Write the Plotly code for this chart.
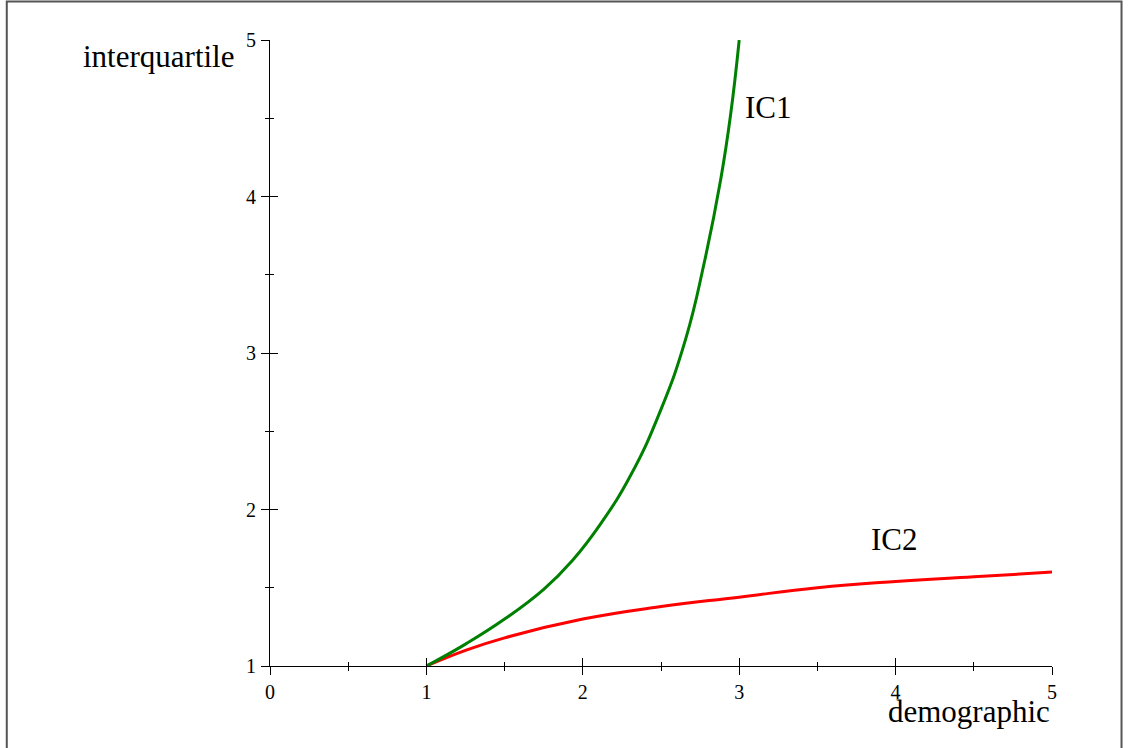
import plotly.graph_objects as go

# ---- data ----
ic1_x = [1, 1.25, 1.5, 1.75, 1.935, 2.115, 2.307, 2.498, 2.658, 2.775, 2.882, 2.946, 3]
ic1_y = [1, 1.14, 1.30, 1.49, 1.676, 1.91, 2.22, 2.635, 3.09, 3.57, 4.11, 4.53, 5]

ic2_x = [1, 1.25, 1.5, 2, 2.5, 3, 3.5, 4, 4.5, 5]
ic2_y = [1, 1.10, 1.18, 1.30, 1.38, 1.44, 1.50, 1.54, 1.57, 1.60]

x_ticks = [0, 1, 2, 3, 4, 5]
y_ticks = [1, 2, 3, 4, 5]

x_title = "demographic"
y_title = "interquartile"
labels = [("IC1", 3.025, 4.57), ("IC2", 3.83, 1.81)]

FONT = "Liberation Serif, Times New Roman, serif"

fig = go.Figure()
fig.add_trace(go.Scatter(x=ic2_x, y=ic2_y, mode="lines",
                         line=dict(color="#ff0000", width=3, shape="spline", smoothing=1.3),
                         showlegend=False, hoverinfo="skip"))
fig.add_trace(go.Scatter(x=ic1_x, y=ic1_y, mode="lines",
                         line=dict(color="#008000", width=3, shape="spline", smoothing=1.3),
                         showlegend=False, hoverinfo="skip"))
# empty trace so that overlay axes (inner halves of crossing ticks) exist
fig.add_trace(go.Scatter(x=[None], y=[None], xaxis="x2", yaxis="y2",
                         showlegend=False, hoverinfo="skip"))

common = dict(showgrid=False, zeroline=False, tickcolor="black", ticklen=8, tickwidth=1)

fig.update_layout(
    width=1128, height=748,
    margin=dict(l=270, r=76, t=40, b=82),
    paper_bgcolor="white", plot_bgcolor="white",
    font=dict(family=FONT, color="black"),
    xaxis=dict(range=[0, 5], tickvals=x_ticks, ticks="outside",
               showline=True, linecolor="black", linewidth=1,
               tickfont=dict(family=FONT, size=20, color="black"),
               ticklabelstandoff=0,
               minor=dict(ticks="outside", ticklen=4, dtick=0.5, tick0=0,
                          tickcolor="black", showgrid=False),
               **common),
    yaxis=dict(range=[1, 5], tickvals=y_ticks, ticks="outside",
               showline=True, linecolor="black", linewidth=1,
               tickfont=dict(family=FONT, size=20, color="black"),
               ticklabelstandoff=1,
               minor=dict(ticks="outside", ticklen=4, dtick=0.5, tick0=1,
                          tickcolor="black", showgrid=False),
               **common),
    xaxis2=dict(range=[0, 5], tickvals=x_ticks, ticks="inside", overlaying="x",
                anchor="y2", side="bottom", showticklabels=False, showline=False,
                minor=dict(ticks="inside", ticklen=4, dtick=0.5, tick0=0,
                           tickcolor="black", showgrid=False),
                **common),
    yaxis2=dict(range=[1, 5], tickvals=y_ticks, ticks="inside", overlaying="y",
                anchor="x2", side="left", showticklabels=False, showline=False,
                minor=dict(ticks="inside", ticklen=4, dtick=0.5, tick0=1,
                           tickcolor="black", showgrid=False),
                **common),
)

annotations = [
    dict(text=y_title, xref="paper", yref="paper", x=-0.042, y=0.973,
         xanchor="right", yanchor="middle", showarrow=False,
         font=dict(family=FONT, size=31, color="black")),
    dict(text=x_title, xref="paper", yref="paper", x=1.0, y=-0.072,
         xanchor="right", yanchor="middle", showarrow=False,
         font=dict(family=FONT, size=31, color="black")),
]
for txt, lx, ly in labels:
    annotations.append(dict(text=txt, xref="x", yref="y", x=lx, y=ly,
                            xanchor="left", yanchor="middle", showarrow=False,
                            font=dict(family=FONT, size=31, color="black")))
fig.update_layout(annotations=annotations)

# thin frame around the whole picture
fig.add_shape(type="rect", xref="paper", yref="paper",
              x0=-0.3366, x1=1.0889, y0=-0.2, y1=1.0615,
              line=dict(color="#555555", width=2), layer="below")

fig.write_html("out.html", config={"displayModeBar": False},
               post_script="document.body.style.margin='0px';document.body.style.padding='0px';")
